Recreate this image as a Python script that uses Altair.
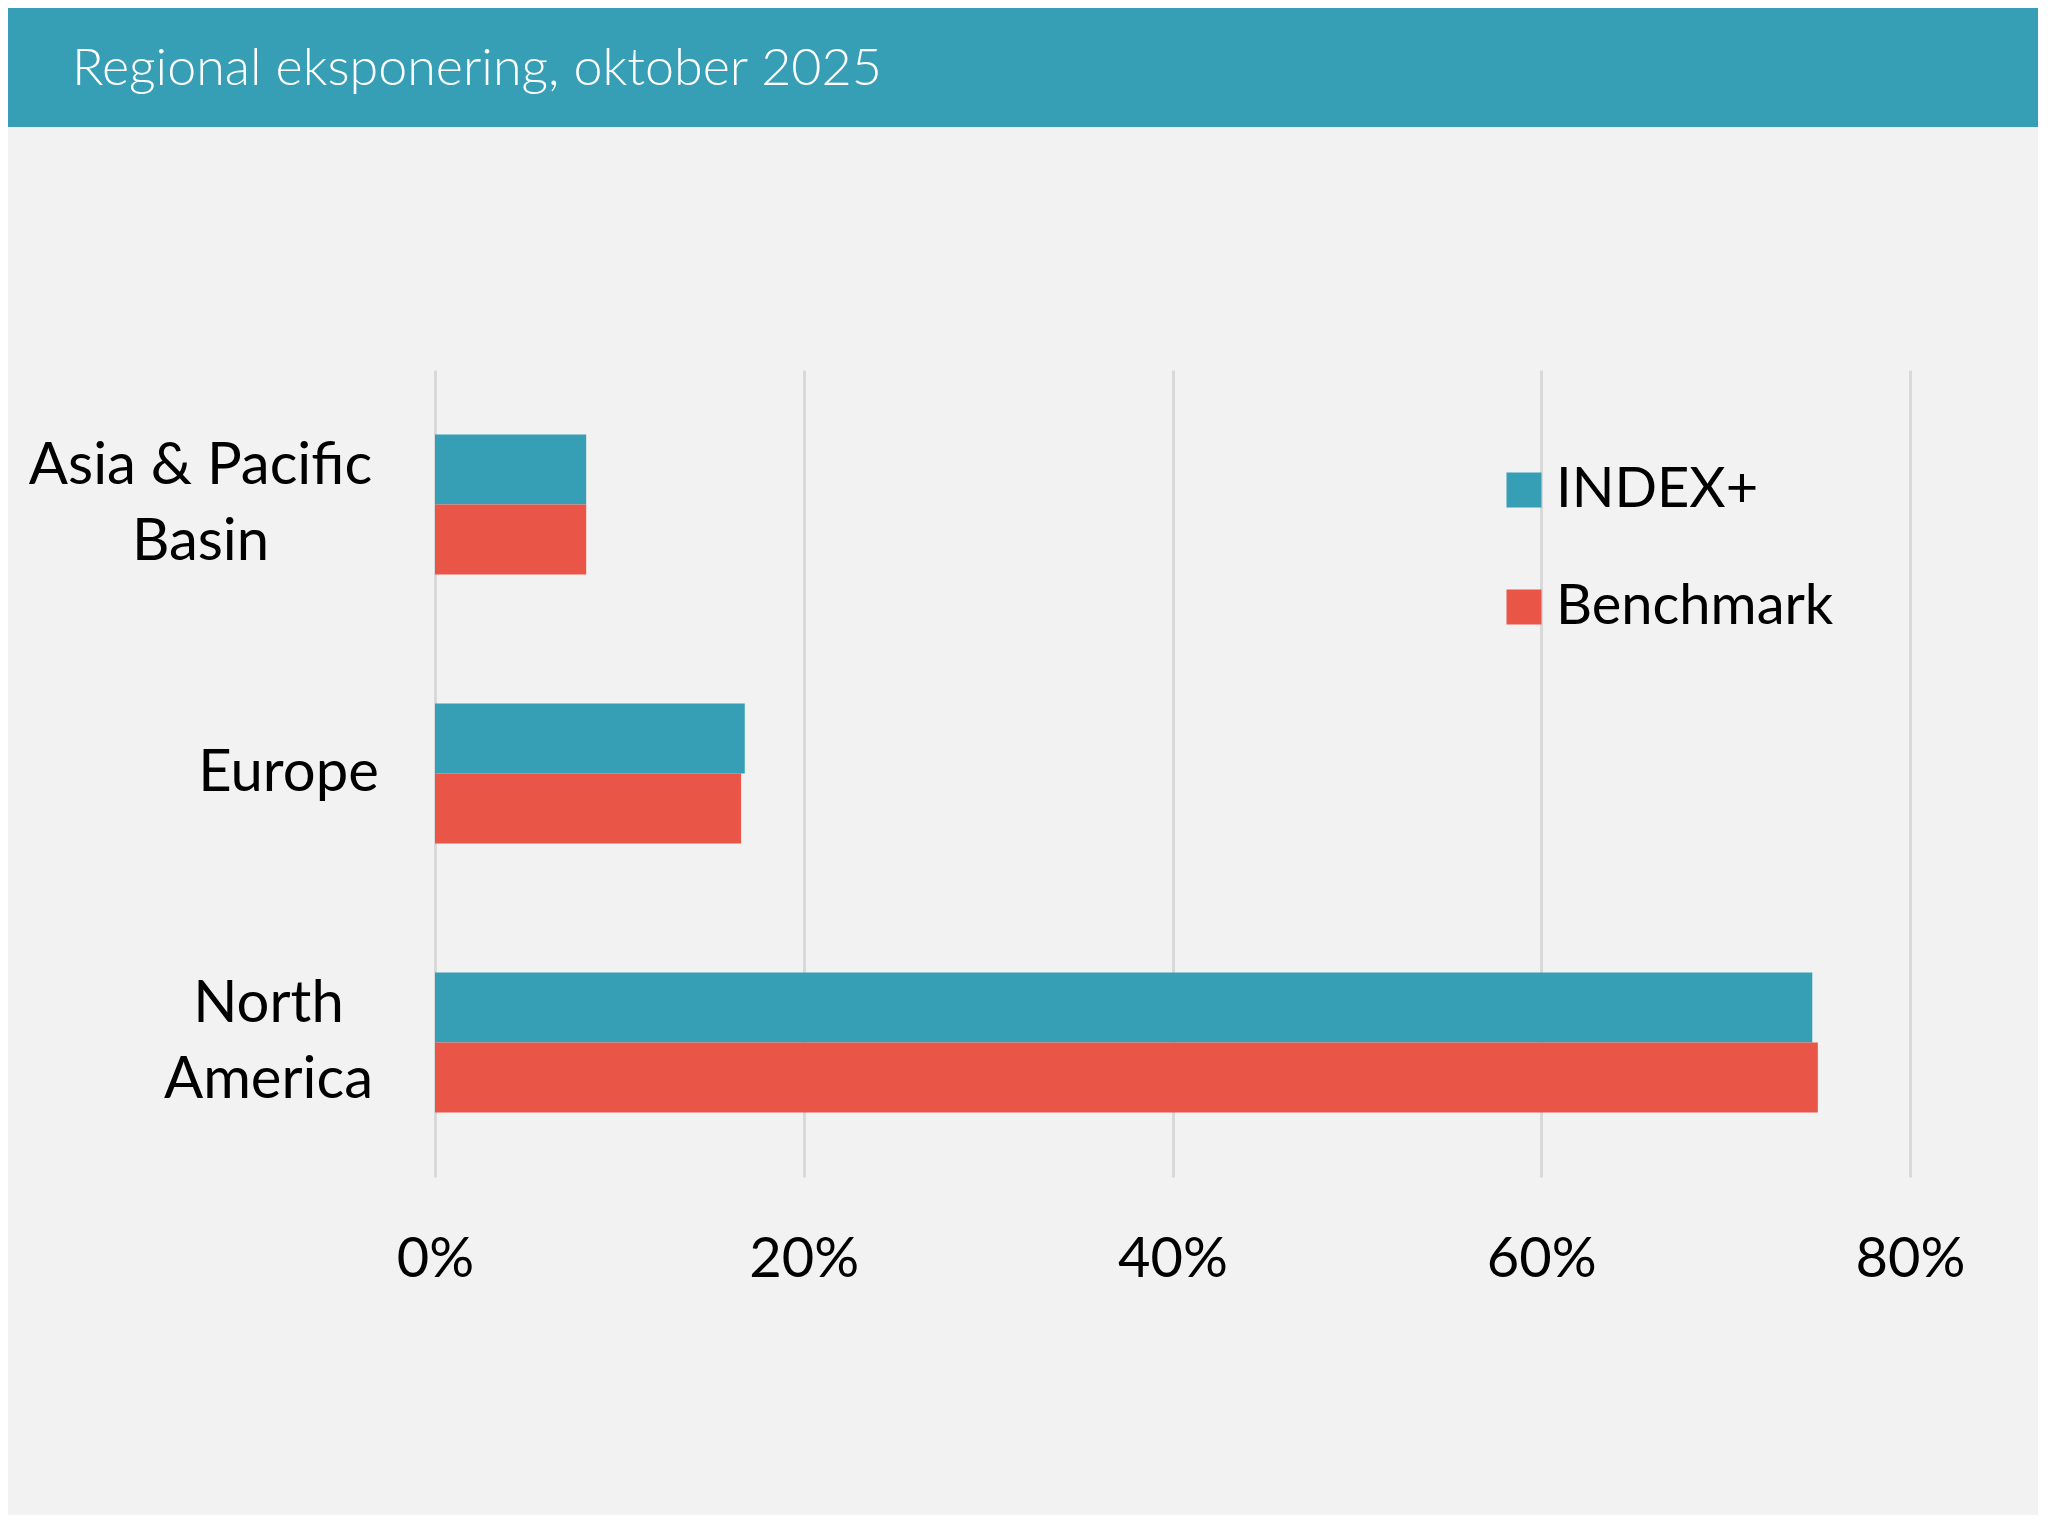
import altair as alt
import pandas as pd

# ---- data ----
regions = ["Asia & Pacific Basin", "Europe", "North America"]
series = ["INDEX+", "Benchmark"]
index_plus = [8.2, 16.8, 74.7]
benchmark = [8.2, 16.6, 75.0]
x_ticks = [0, 20, 40, 60, 80]
title_text = "Regional eksponering, oktober 2025"

TEAL = "#369FB5"
RED = "#E95546"
BG = "#F2F2F2"
GRID = "#D9D9D9"
FONT = "Lato"

rows = []
for r, a, b in zip(regions, index_plus, benchmark):
    rows.append({"region": r, "series": series[0], "value": a})
    rows.append({"region": r, "series": series[1], "value": b})
df = pd.DataFrame(rows)

W, H = 1475, 807
PAD_L, PAD_T = 427, 362

header = alt.Chart(alt.Data(values=[{"k": 0}])).mark_rect(color=TEAL).encode(
    x=alt.value(-PAD_L - 10),
    x2=alt.value(W + 200),
    y=alt.value(-PAD_T - 10),
    y2=alt.value(127 - 370),
)

title = alt.Chart(alt.Data(values=[{"t": title_text}])).mark_text(
    align="left",
    baseline="alphabetic",
    font=FONT,
    fontSize=52,
    fontWeight=300,
    color="#FFFFFF",
).encode(
    text="t:N",
    x=alt.value(72 - 435),
    y=alt.value(85 - 370),
)

label_expr = (
    "datum.value == 'Asia & Pacific Basin' ? ['Asia & Pacific', 'Basin'] : "
    "datum.value == 'North America' ? ['North', 'America'] : datum.value"
)

bars = alt.Chart(df).mark_bar().encode(
    y=alt.Y(
        "region:N",
        sort=regions,
        scale=alt.Scale(paddingInner=0.48, paddingOuter=0.24),
        axis=alt.Axis(
            title=None,
            domain=False,
            ticks=False,
            tickSize=0,
            grid=False,
            labelExpr=label_expr,
            labelAlign="center",
            labelBaseline="middle",
            labelLineHeight=76,
            labelFont=FONT,
            labelFontSize=58,
            labelColor="#000000",
            labelLimit=0,
            labelOffset={
                "condition": {"test": "datum.value != 'Europe'", "value": -38},
                "value": 0,
            },
            labelPadding={
                "condition": [
                    {"test": "datum.value == 'Asia & Pacific Basin'", "value": 235},
                    {"test": "datum.value == 'North America'", "value": 167},
                ],
                "value": 147,
            },
        ),
    ),
    yOffset=alt.YOffset("series:N", sort=series, scale=alt.Scale(paddingInner=0, paddingOuter=0)),
    x=alt.X(
        "value:Q",
        scale=alt.Scale(domain=[0, 80], nice=False),
        axis=alt.Axis(
            title=None,
            values=x_ticks,
            labelExpr="datum.value + '%'",
            domain=False,
            ticks=False,
            tickSize=0,
            grid=True,
            gridColor=GRID,
            gridWidth=3,
            labelFont=FONT,
            labelFontSize=56,
            labelColor="#000000",
            labelBaseline="alphabetic",
            labelPadding=99,
            labelFlush=False,
            labelOverlap=False,
        ),
    ),
    color=alt.Color(
        "series:N",
        sort=series,
        scale=alt.Scale(domain=series, range=[TEAL, RED]),
        legend=alt.Legend(
            title=None,
            orient="none",
            legendX=1061,
            legendY=92,
            symbolType="square",
            symbolSize=1225,
            symbolStrokeWidth=0,
            labelFont=FONT,
            labelFontSize=56,
            labelColor="#000000",
            labelOffset=4,
            rowPadding=61,
            padding=0,
            labelLimit=0,
        ),
    ),
)

chart = (
    alt.layer(header, title, bars)
    .properties(
        width=W,
        height=H,
        autosize=alt.AutoSizeParams(type="none"),
        padding={"left": PAD_L, "top": PAD_T, "right": 128, "bottom": 338},
        background=BG,
    )
    .configure_view(stroke=None)
)

chart.save("out.html", embed_options={"renderer": "svg", "actions": False})
